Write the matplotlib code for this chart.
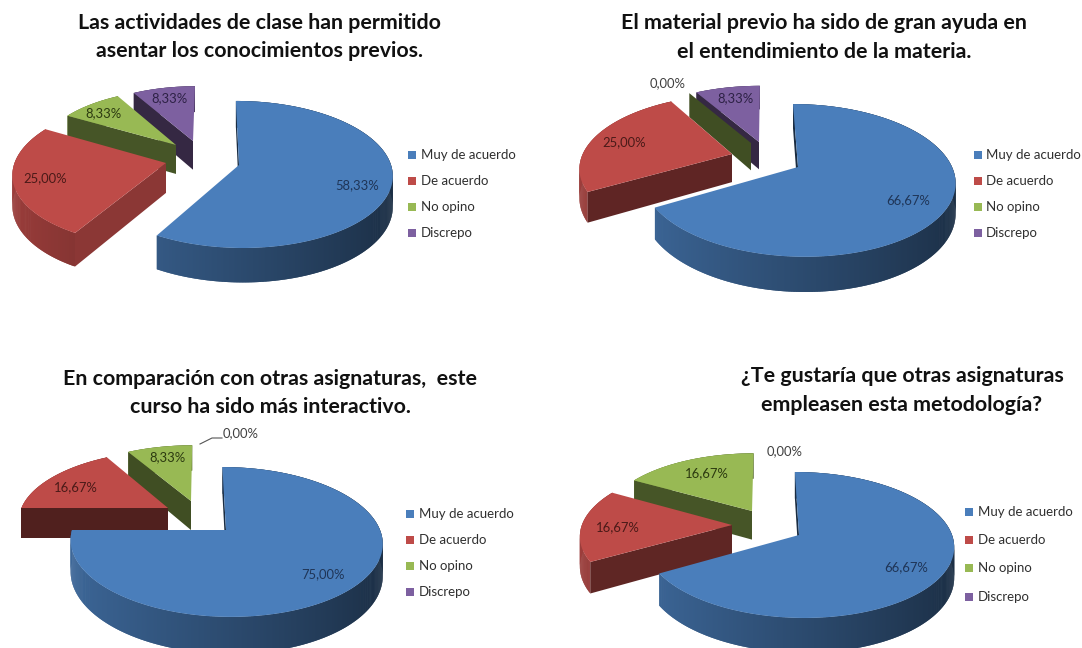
import numpy as np
import matplotlib
matplotlib.use("Agg")
import matplotlib.pyplot as plt
from matplotlib.patches import Polygon
from matplotlib.collections import PolyCollection
from matplotlib.colors import to_rgb

plt.rcParams['font.family'] = ['Lato', 'DejaVu Sans']

CATEGORIES = ["Muy de acuerdo", "De acuerdo", "No opino", "Discrepo"]
VALUES_1 = [58.33, 25.00, 8.33, 8.33]
VALUES_2 = [66.67, 25.00, 0.00, 8.33]
VALUES_3 = [75.00, 16.67, 8.33, 0.00]
VALUES_4 = [66.67, 16.67, 16.67, 0.00]
TITLE_1 = ["Las actividades de clase han permitido", "asentar los conocimientos previos."]
TITLE_2 = ["El material previo ha sido de gran ayuda en", "el entendimiento de la materia."]
TITLE_3 = ["En comparación con otras asignaturas,  este", "curso ha sido más interactivo."]
TITLE_4 = ["¿Te gustaría que otras asignaturas", "empleasen esta metodología?"]

COLORS = ['#4a7ebb', '#be4b48', '#98b954', '#7d60a0']
LABEL_COLORS = ['#1f3557', '#4a1a18', '#2c3a10', '#2d2145']

# geometry of each drawing in image pixels: camera, slice tips, labels, legend
LAYOUTS = [
    dict(values=VALUES_1, title=TITLE_1, title_x=259, title_y=(23, 51),
         cx=212, cy=165, R=152, Ry=72.3, k=0.129, depth=30,
         apex=[(239, 165), (166, 163), (176, 145), (193, 141)],
         scale=[1, 1, 0.92, 0.92],
         labels=[(357, 185), (45, 178), (104, 113), (170, 98)],
         legend=(412, 421, [155, 181, 207, 233])),
    dict(values=VALUES_2, title=TITLE_2, title_x=824, title_y=(23, 52),
         cx=765, cy=167, R=154, Ry=74, k=0.176, depth=29,
         apex=[(798, 167), (732, 154), (751, 143), (759, 142)],
         scale=[1, 1, 1, 1],
         labels=[(908, 200), (624, 142), (668, 83), (735, 98)],
         legend=(978, 986, [155, 181, 207, 233])),
    dict(values=VALUES_3, title=TITLE_3, title_x=270, title_y=(379, 407),
         cx=200, cy=530, R=154, Ry=73, k=0.16, depth=31,
         apex=[(226, 530), (168, 508), (191, 501), None],
         scale=[1, 1, 1, 1],
         labels=[(323, 574), (76, 487), (168, 457), (241, 433)],
         legend=(410, 419, [514, 540, 566, 592])),
    dict(values=VALUES_4, title=TITLE_4, title_x=902, title_y=(376, 405),
         cx=765, cy=535, R=153, Ry=71.6, k=0.137, depth=30,
         apex=[(799, 535), (732, 525), (752, 511), None],
         scale=[1, 1, 1, 1],
         labels=[(906, 567), (618, 527), (707, 473), (785, 451)],
         legend=(969, 978, [512, 540, 568, 597])),
]


def shade(color, f):
    return tuple(c * f for c in to_rgb(color))


def fmt(v):
    return f"{v:.2f}%".replace(".", ",")


def draw_slice(ax, lay, color, apex, a0, a1, size):
    cx, cy, R, Ry, k, depth = lay['cx'], lay['cy'], lay['R'], lay['Ry'], lay['k'], lay['depth']
    v = (apex[1] - cy) / Ry
    Y0 = v / (1 + k * v)
    X0 = (apex[0] - cx) / R * (1 - k * Y0)

    def project(X, Y):
        w = 1 - k * Y
        return cx + R * X / w, cy + Ry * Y / w, depth / w

    th = np.radians(np.linspace(a0, a1, max(int(a1 - a0) * 2, 2)))
    ox, oy, od = project(X0 + size * np.sin(th), Y0 - size * np.cos(th))
    ax_, ay_, ad_ = project(X0, Y0)

    # rounded outer wall, lighter on the left; quads overlap so no seams show
    if a1 > a0:
        quads, cols = [], []
        for i in range(len(th) - 1):
            j = min(i + 2, len(th) - 1)
            quads.append([(ox[i], oy[i]), (ox[j], oy[j]),
                          (ox[j], oy[j] + od[j]), (ox[i], oy[i] + od[i])])
            cols.append(shade(color, np.interp(np.sin(th[i]), [-1, 1], [0.82, 0.36])))
        ax.add_collection(PolyCollection(quads, facecolors=cols, edgecolors='none',
                                         zorder=lay['z']))

    # cut face at the start of the slice
    f = np.interp(a0, [0, 210, 240, 270, 300, 330], [0.35, 0.73, 0.5, 0.42, 0.46, 0.42])
    wall = [(ox[0], oy[0]), (ax_, ay_), (ax_, ay_ + ad_), (ox[0], oy[0] + od[0])]
    ax.add_patch(Polygon(wall, closed=True, fc=shade(color, f), ec='none', zorder=lay['z'] + 0.1))

    if a1 > a0:
        top = [(ax_, ay_)] + list(zip(ox, oy))
        ax.add_patch(Polygon(top, closed=True, fc=color, ec='none', zorder=lay['z'] + 0.2))


fig = plt.figure(figsize=(10.82, 6.48), dpi=100)
ax = fig.add_axes([0, 0, 1, 1])
ax.set_xlim(0, 1082)
ax.set_ylim(648, 0)
ax.axis('off')

for lay in LAYOUTS:
    vals = np.array(lay['values'])
    edges = np.concatenate([[0], np.cumsum(vals)]) / vals.sum() * 360

    # back slices first, blue last
    for i in (3, 2, 1, 0):
        if lay['apex'][i] is None:
            continue
        lay['z'] = 5 - i
        draw_slice(ax, lay, COLORS[i], lay['apex'][i], edges[i], edges[i + 1], lay['scale'][i])

    for i, (lx, ly) in enumerate(lay['labels']):
        col = LABEL_COLORS[i] if vals[i] > 0 else '#404040'
        ax.text(lx, ly, fmt(vals[i]), fontsize=9.4, color=col, ha='center', va='center', zorder=10)

    for line, ty in zip(lay['title'], lay['title_y']):
        ax.text(lay['title_x'], ty, line, fontsize=15.4, fontweight='bold', color='#111111',
                ha='center', va='center', zorder=10)

    mx, tx, rows = lay['legend']
    for name, col, ry in zip(CATEGORIES, COLORS, rows):
        ax.scatter([mx], [ry], marker='s', s=40, color=col, linewidths=0, zorder=10)
        ax.text(tx, ry, name, fontsize=9.5, color='#303030', ha='left', va='center', zorder=10)

# leader of the 0,00% label in the third chart
ax.plot([200, 212, 222], [444, 438, 438], color='#555555', lw=0.8, zorder=10)

fig.savefig("out.png", dpi=100)
